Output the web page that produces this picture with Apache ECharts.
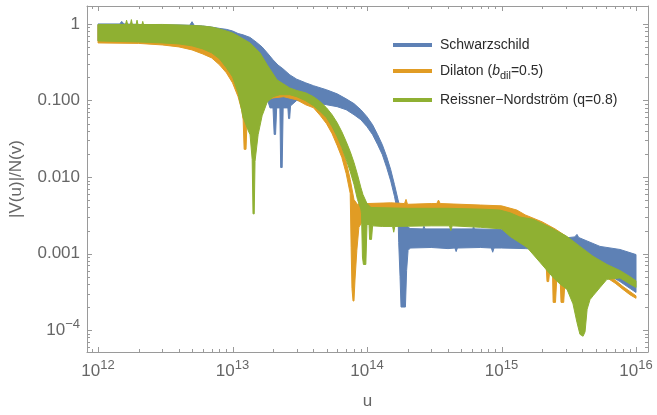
<!DOCTYPE html>
<html><head><meta charset="utf-8">
<script src="https://cdn.jsdelivr.net/npm/echarts@6/dist/echarts.min.js"></script>
<style>html,body{margin:0;padding:0;background:#fff}#c{width:657px;height:415px}</style>
</head><body><div id="c"></div>
<script>
// ---- axis ranges and ticks ----
const xMin = 8.28e11, xMax = 1.228e16;
const yMin = 5.17e-5, yMax = 1.716;
const xMajorTicks = [1e12, 1e13, 1e14, 1e15, 1e16];
const xTickLabels = ['12', '13', '14', '15', '16'];
const xMinorTicks = [9e11,
  2e12,3e12,4e12,5e12,6e12,7e12,8e12,9e12,
  2e13,3e13,4e13,5e13,6e13,7e13,8e13,9e13,
  2e14,3e14,4e14,5e14,6e14,7e14,8e14,9e14,
  2e15,3e15,4e15,5e15,6e15,7e15,8e15,9e15];
const yMajorTicks = [1e-4, 1e-3, 1e-2, 1e-1, 1];
const yTickLabels = ['10^-4', '0.001', '0.010', '0.100', '1'];
const yMinorTicks = [6e-5,7e-5,8e-5,9e-5,
  2e-4,3e-4,4e-4,5e-4,6e-4,7e-4,8e-4,9e-4,
  2e-3,3e-3,4e-3,5e-3,6e-3,7e-3,8e-3,9e-3,
  2e-2,3e-2,4e-2,5e-2,6e-2,7e-2,8e-2,9e-2,
  0.2,0.3,0.4,0.5,0.6,0.7,0.8,0.9];

// ---- series names ----
const seriesNames = ['Schwarzschild', 'Dilaton (b_dil=0.5)', 'Reissner\u2212Nordstr\u00f6m (q=0.8)'];

// ---- data: upper / lower envelopes of each oscillating curve, [u, |V(u)|/N(v)] ----
const schwUpper = [[1.0e12,1.0],[1.45e12,1.0],[1.5e12,1.08],[1.56e12,1.0],[2e12,0.985],[3e12,0.97],[4e12,0.97],[4.8e12,0.96],[5e12,1.07],[5.2e12,0.955],[6e12,0.94],[7e12,0.91],[8e12,0.875],[9e12,0.85],[1e13,0.81],[1.1e13,0.75],[1.2e13,0.72],[1.35e13,0.667],[1.5e13,0.58],[1.66e13,0.50],[1.81e13,0.42],[2e13,0.34],[2.18e13,0.29],[2.37e13,0.26],[2.67e13,0.216],[3e13,0.19],[3.5e13,0.17],[4e13,0.156],[5e13,0.138],[6e13,0.122],[7e13,0.105],[8e13,0.091],[9e13,0.0757],[1e14,0.0613],[1.1e14,0.0482],[1.2e14,0.0357],[1.3e14,0.0264],[1.4e14,0.0185],[1.5e14,0.0125],[1.6e14,0.00796],[1.7e14,0.00507],[1.79e14,0.00354],[1.92e14,0.0024],[2.09e14,0.00212],[2.6e14,0.0021],[2.65e14,0.00228],[2.7e14,0.0021],[5e14,0.0021],[6.1e14,0.0021],[6.2e14,0.00226],[6.3e14,0.0021],[1e15,0.00206],[1.3e15,0.0020],[2e15,0.0019],[3e15,0.0016],[3.5e15,0.00165],[3.64e15,0.00178],[3.75e15,0.00162],[5.4e15,0.00124],[7.6e15,0.00113],[1e16,0.00097]];
const schwLower = [[1.0e12,0.60],[3e12,0.57],[5e12,0.53],[7e12,0.46],[1e13,0.34],[1.2e13,0.25],[1.5e13,0.16],[1.81e13,0.105],[1.9e13,0.08],[2.0e13,0.08],[2.04e13,0.036],[2.09e13,0.036],[2.13e13,0.08],[2.25e13,0.08],[2.28e13,0.0133],[2.34e13,0.0133],[2.38e13,0.08],[2.58e13,0.08],[2.61e13,0.058],[2.66e13,0.058],[2.7e13,0.085],[3e13,0.10],[3.5e13,0.097],[4e13,0.094],[5e13,0.088],[6e13,0.083],[7e13,0.0757],[8e13,0.0651],[9e13,0.056],[1e14,0.0454],[1.1e14,0.0357],[1.2e14,0.0264],[1.3e14,0.0196],[1.4e14,0.0133],[1.5e14,0.0089],[1.6e14,0.0056],[1.7e14,0.0033],[1.72e14,0.0014],[1.76e14,0.0005],[1.79e14,0.0002],[1.93e14,0.0002],[1.97e14,0.0006],[2.02e14,0.0011],[2.1e14,0.00118],[3e14,0.0012],[4e14,0.00116],[4.5e14,0.00118],[4.6e14,0.00106],[4.7e14,0.00118],[7e14,0.0012],[8.4e14,0.00118],[8.6e14,0.00104],[8.8e14,0.00118],[1e15,0.00118],[1.5e15,0.00116],[2e15,0.00113],[2.5e15,0.00106],[3e15,0.001],[3.5e15,0.0009],[4e15,0.0008],[5e15,0.00066],[6e15,0.00055],[7.6e15,0.00043],[1e16,0.00031]];

const dilUpper = [[1e12,0.97],[3e12,0.95],[5e12,0.89],[6e12,0.835],[7e12,0.787],[8e12,0.72],[9e12,0.657],[1e13,0.582],[1.1e13,0.50],[1.2e13,0.431],[1.3e13,0.383],[1.5e13,0.292],[1.8e13,0.216],[2e13,0.175],[2.2e13,0.146],[2.6e13,0.138],[3e13,0.13],[3.5e13,0.115],[4e13,0.102],[4.5e13,0.0828],[5e13,0.0651],[5.5e13,0.0497],[6e13,0.0347],[6.5e13,0.0242],[7e13,0.0159],[7.5e13,0.0093],[8e13,0.00507],[8.5e13,0.00437],[9e13,0.00464],[1e14,0.0045],[1.5e14,0.0046],[1.9e14,0.0045],[1.95e14,0.0051],[2.0e14,0.0044],[3e14,0.0045],[3.3e14,0.0045],[3.4e14,0.005],[3.5e14,0.0045],[5e14,0.0044],[7e14,0.0043],[1e15,0.0042],[1.3e15,0.0037],[1.5e15,0.0032],[2e15,0.0026],[2.5e15,0.0021],[3e15,0.0017],[3.5e15,0.0013],[4e15,0.00103],[4.5e15,0.0008],[5e15,0.00066],[5.4e15,0.00058],[6e15,0.00053],[7e15,0.00045],[8e15,0.00037],[9e15,0.00032],[1e16,0.00028]];
const dilLower = [[1e12,0.565],[2e12,0.557],[3e12,0.532],[4e12,0.501],[5e12,0.458],[6e12,0.406],[7e12,0.36],[8e12,0.292],[9e12,0.23],[1e13,0.17],[1.1e13,0.112],[1.17e13,0.075],[1.2e13,0.056],[1.22e13,0.023],[1.26e13,0.023],[1.28e13,0.05],[1.35e13,0.06],[1.5e13,0.08],[1.8e13,0.10],[2e13,0.108],[2.4e13,0.112],[3e13,0.102],[3.5e13,0.0879],[4e13,0.0803],[4.5e13,0.0632],[5e13,0.0497],[5.5e13,0.0368],[6e13,0.0257],[6.5e13,0.018],[7e13,0.0111],[7.5e13,0.0061],[7.62e13,0.0012],[7.73e13,0.00035],[7.87e13,0.00024],[8e13,0.00024],[8.14e13,0.00045],[8.4e13,0.0011],[8.7e13,0.0022],[9.2e13,0.0026],[1.5e14,0.0026],[3e14,0.0026],[7e14,0.0026],[1e15,0.0025],[1.16e15,0.0019],[1.37e15,0.00163],[1.55e15,0.00135],[1.72e15,0.0012],[1.93e15,0.00103],[2.0e15,0.00079],[2.14e15,0.00079],[2.18e15,0.00043],[2.24e15,0.00043],[2.3e15,0.00066],[2.39e15,0.00066],[2.42e15,0.00023],[2.52e15,0.00023],[2.58e15,0.0005],[2.72e15,0.00055],[2.77e15,0.00023],[2.9e15,0.00023],[2.98e15,0.0005],[3.12e15,0.0005],[3.18e15,0.00031],[3.34e15,0.00031],[3.42e15,0.00053],[3.8e15,0.00058],[4.5e15,0.00055],[5.4e15,0.00052],[6e15,0.00049],[7e15,0.00041],[8e15,0.00034],[9e15,0.00029],[1e16,0.00026]];

const rnUpper = [[1e12,0.985],[1.6e12,0.985],[1.63e12,1.12],[1.66e12,0.985],[1.74e12,0.985],[1.77e12,1.14],[1.8e12,0.985],[1.92e12,0.985],[1.95e12,1.12],[1.98e12,0.985],[2.12e12,0.98],[2.15e12,1.08],[2.18e12,0.98],[3e12,0.985],[4e12,0.97],[5e12,0.956],[6e12,0.94],[7e12,0.91],[8e12,0.861],[9e12,0.811],[1e13,0.763],[1.1e13,0.698],[1.2e13,0.637],[1.35e13,0.565],[1.6e13,0.419],[1.81e13,0.292],[2.14e13,0.186],[2.66e13,0.146],[3e13,0.135],[3.5e13,0.126],[4e13,0.112],[4.5e13,0.096],[5e13,0.0803],[5.5e13,0.0651],[6e13,0.0512],[6.5e13,0.039],[7e13,0.029],[7.5e13,0.0215],[8e13,0.0155],[8.5e13,0.0107],[9e13,0.0073],[9.33e13,0.0059],[1e14,0.0045],[1.07e14,0.0040],[2e14,0.0039],[4e14,0.0039],[7.2e14,0.0038],[9.7e14,0.0037],[1.16e15,0.0034],[1.37e15,0.0030],[1.72e15,0.0028],[2.3e15,0.0022],[3.07e15,0.00167],[3.83e15,0.00124],[4.79e15,0.00092],[6.08e15,0.00072],[7.6e15,0.0006],[9e15,0.0005],[1e16,0.00044]];
const rnLower = [[1e12,0.60],[2e12,0.582],[3e12,0.565],[4e12,0.548],[5e12,0.517],[6e12,0.472],[7e12,0.419],[8e12,0.35],[9e12,0.267],[1e13,0.204],[1.1e13,0.126],[1.2e13,0.06],[1.3e13,0.0415],[1.35e13,0.0357],[1.4e13,0.0169],[1.42e13,0.0033],[1.45e13,0.0033],[1.47e13,0.016],[1.55e13,0.0357],[1.66e13,0.0632],[1.81e13,0.095],[2e13,0.112],[2.25e13,0.119],[2.66e13,0.119],[3e13,0.112],[3.5e13,0.0991],[4e13,0.0853],[4.5e13,0.0713],[5e13,0.0595],[5.5e13,0.0454],[6e13,0.0336],[6.5e13,0.0242],[7e13,0.0169],[7.5e13,0.0118],[8e13,0.008],[8.5e13,0.00507],[9e13,0.0038],[9.1e13,0.0033],[9.25e13,0.0009],[9.4e13,0.00072],[9.8e13,0.00072],[1.0e14,0.0024],[1.035e14,0.0024],[1.045e14,0.00153],[1.08e14,0.00153],[1.1e14,0.0023],[1.3e14,0.00226],[1.55e14,0.00226],[1.58e14,0.0019],[1.61e14,0.00226],[3e14,0.0023],[4.1e14,0.0023],[4.2e14,0.002],[4.3e14,0.0023],[7e14,0.0022],[1e15,0.0021],[1.16e15,0.00167],[1.55e15,0.0012],[1.93e15,0.00077],[2.41e15,0.00049],[2.72e15,0.0004],[3.07e15,0.00034],[3.4e15,0.00022],[3.64e15,0.000126],[3.83e15,0.000088],[4.04e15,0.000083],[4.18e15,0.000095],[4.33e15,0.000187],[4.55e15,0.00025],[4.79e15,0.00028],[5.4e15,0.00036],[6.08e15,0.00046],[7.6e15,0.00048],[9e15,0.0004],[1e16,0.00036]];

// ---- styling ----
const colors = ['#5E81B5', '#E19C24', '#8FB032'];
const frameColor = '#9a9a9a';
const labelColor = '#666666';
const FONT = '"Liberation Sans", Arial, sans-serif';

function bandSeries(name, color, upper, lower) {
  return {
    type: 'custom', name: name, coordinateSystem: 'cartesian2d',
    xAxisIndex: 0, yAxisIndex: 0, clip: true, silent: true,
    itemStyle: { color: color },
    data: [upper[0]],
    renderItem: function (params, api) {
      const pts = upper.map(p => api.coord(p))
        .concat(lower.slice().reverse().map(p => api.coord(p)));
      return { type: 'polygon', shape: { points: pts },
        style: { fill: color, stroke: color, lineWidth: 1, lineJoin: 'miter' } };
    }
  };
}

const tickSeries = {
  type: 'custom', coordinateSystem: 'cartesian2d', xAxisIndex: 0, yAxisIndex: 0,
  silent: true, clip: false, z: 5,
  data: [[1e13, 0.01]],
  renderItem: function (params, api) {
    const cs = params.coordSys;
    const T = cs.y, B = cs.y + cs.height, L = cs.x, R = cs.x + cs.width;
    const children = [];
    const add = (x1, y1, x2, y2) => children.push({ type: 'line',
      shape: { x1: x1, y1: y1, x2: x2, y2: y2 }, style: { stroke: frameColor, lineWidth: 1 } });
    const xt = (v, len) => { const x = Math.round(api.coord([v, 1e-2])[0]) + 0.5;
      add(x, B, x, B - len); add(x, T, x, T + len); };
    const yt = (v, len) => { const y = Math.round(api.coord([1e13, v])[1]) + 0.5;
      add(L, y, L + len, y); add(R, y, R - len, y); };
    xMajorTicks.forEach(v => xt(v, 5));
    xMinorTicks.forEach(v => xt(v, 3));
    yMajorTicks.forEach(v => yt(v, 5));
    yMinorTicks.forEach(v => yt(v, 3));
    return { type: 'group', children: children };
  }
};

const richNum = {
  b: { fontSize: 17, lineHeight: 24, color: labelColor, fontFamily: FONT },
  s: { fontSize: 13, lineHeight: 10, verticalAlign: 'top', color: labelColor, fontFamily: FONT }
};

function isPow(v) { const e = Math.log10(v); return Math.abs(e - Math.round(e)) < 1e-6; }

const chart = echarts.init(document.getElementById('c'), null, { renderer: 'canvas' });
const legendBase = {
  orient: 'horizontal', left: 393, padding: 0, itemWidth: 39, itemHeight: 4,
  selectedMode: false,
  textStyle: { fontSize: 14, lineHeight: 18, color: '#2b2b2b', fontFamily: FONT, padding: [0, 0, 0, 3],
    rich: {
      i: { fontSize: 14, fontStyle: 'italic', color: '#2b2b2b', fontFamily: FONT, lineHeight: 20 },
      sub: { fontSize: 11, lineHeight: 8, verticalAlign: 'bottom', color: '#2b2b2b', fontFamily: FONT },
      n: { fontSize: 14, color: '#2b2b2b', fontFamily: FONT, lineHeight: 20 }
    } },
  formatter: function (name) {
    if (name === seriesNames[1]) return '{n|Dilaton (}{i|b}{sub|dil}{n|=0.5)}';
    return name;
  }
};
chart.setOption({
  animation: false,
  backgroundColor: '#ffffff',
  grid: { left: 87, right: 9, top: 6, bottom: 62 },
  legend: [
    Object.assign({}, legendBase, { top: 36, data: [{ name: seriesNames[0], icon: 'rect', itemStyle: { color: colors[0] } }] }),
    Object.assign({}, legendBase, { top: 61, data: [{ name: seriesNames[1], icon: 'rect', itemStyle: { color: colors[1] } }] }),
    Object.assign({}, legendBase, { top: 91, data: [{ name: seriesNames[2], icon: 'rect', itemStyle: { color: colors[2] } }] })
  ],
  xAxis: [{
    type: 'log', min: xMin, max: xMax, position: 'bottom',
    name: 'u', nameLocation: 'middle', nameGap: 41,
    nameTextStyle: { fontSize: 17, color: labelColor, fontFamily: FONT },
    axisLine: { show: true, lineStyle: { color: frameColor, width: 1 } },
    axisTick: { show: false }, splitLine: { show: false }, minorTick: { show: false },
    axisLabel: { margin: 7, showMinLabel: false, showMaxLabel: false,
      formatter: function (v) {
        if (!isPow(v)) return '';
        const i = xMajorTicks.findIndex(t => Math.abs(Math.log10(t) - Math.log10(v)) < 1e-6);
        return i < 0 ? '' : '{b|10}{s|' + xTickLabels[i] + '}';
      }, rich: richNum }
  }, {
    type: 'log', min: xMin, max: xMax, position: 'top',
    axisLine: { show: true, lineStyle: { color: frameColor, width: 1 } },
    axisTick: { show: false }, axisLabel: { show: false }, splitLine: { show: false }
  }],
  yAxis: [{
    type: 'log', min: yMin, max: yMax, position: 'left',
    name: '|V(u)|/N(v)', nameLocation: 'middle', nameGap: 62,
    nameTextStyle: { fontSize: 17, color: labelColor, fontFamily: FONT },
    axisLine: { show: true, lineStyle: { color: frameColor, width: 1 } },
    axisTick: { show: false }, splitLine: { show: false }, minorTick: { show: false },
    axisLabel: { margin: 7, showMinLabel: false, showMaxLabel: false,
      fontSize: 17, color: labelColor, fontFamily: FONT,
      formatter: function (v) {
        if (!isPow(v)) return '';
        const i = yMajorTicks.findIndex(t => Math.abs(Math.log10(t) - Math.log10(v)) < 1e-6);
        if (i < 0) return '';
        const lab = yTickLabels[i];
        if (lab.indexOf('^') >= 0) { const p = lab.split('^'); return '{b|' + p[0] + '}{s|' + p[1].replace('-', '\u2212') + '}'; }
        return '{b|' + lab + '}';
      }, rich: richNum }
  }, {
    type: 'log', min: yMin, max: yMax, position: 'right',
    axisLine: { show: true, lineStyle: { color: frameColor, width: 1 } },
    axisTick: { show: false }, axisLabel: { show: false }, splitLine: { show: false }
  }],
  series: [
    bandSeries(seriesNames[0], colors[0], schwUpper, schwLower),
    bandSeries(seriesNames[1], colors[1], dilUpper, dilLower),
    bandSeries(seriesNames[2], colors[2], rnUpper, rnLower),
    tickSeries
  ]
});
</script></body></html>
